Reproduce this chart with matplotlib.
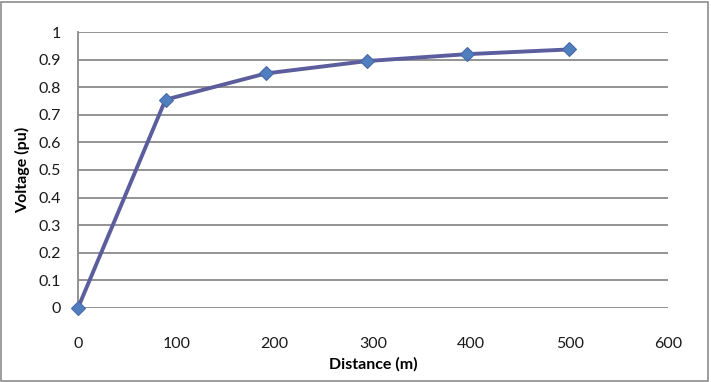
import matplotlib.pyplot as plt
from matplotlib.patches import Rectangle

# distance along the feeder vs. voltage
distance = [0, 89, 191, 294, 396, 499]
voltage = [0.0, 0.755, 0.85, 0.895, 0.92, 0.937]

x_ticks = [0, 100, 200, 300, 400, 500, 600]
y_ticks = [0, 0.1, 0.2, 0.3, 0.4, 0.5, 0.6, 0.7, 0.8, 0.9, 1]
y_labels = ['0', '0.1', '0.2', '0.3', '0.4', '0.5', '0.6', '0.7', '0.8', '0.9', '1']

plt.rcParams['font.family'] = ['Lato', 'DejaVu Sans']

fig = plt.figure(figsize=(7.11, 3.82), dpi=100)
ax = fig.add_axes([0.1097, 0.194, 0.8298, 0.722])

# outer chart border
fig.patches.append(Rectangle((0.002, 0.003), 0.994, 0.992, transform=fig.transFigure,
                             fill=False, edgecolor='#8c8c8c', linewidth=1.2))

ax.plot(distance, voltage, color='#5b5d9d', linewidth=2.8, marker='D',
        markersize=7.5, markerfacecolor='#4f7fbf', markeredgecolor='#4a68a6',
        markeredgewidth=0.8, zorder=3, clip_on=False)

ax.set_xlim(0, 600)
ax.set_ylim(0, 1)
ax.set_xticks(x_ticks)
ax.set_yticks(y_ticks)
ax.set_yticklabels(y_labels)
ax.tick_params(axis='both', length=0, labelsize=11.5, colors='#1a1a1a')
ax.tick_params(axis='x', pad=21)
ax.tick_params(axis='y', pad=12)

ax.grid(axis='y', color='#8a8a8a', linewidth=1.3)
ax.set_axisbelow(True)
for side in ['top', 'right', 'bottom']:
    ax.spines[side].set_visible(False)
ax.spines['left'].set_color('#8a8a8a')
ax.spines['left'].set_linewidth(1.3)

ax.set_xlabel('Distance (m)', fontsize=11.5, fontweight='bold', labelpad=4)
ax.set_ylabel('Voltage (pu)', fontsize=11.5, fontweight='bold', labelpad=6)

fig.savefig('out.png', dpi=100)
